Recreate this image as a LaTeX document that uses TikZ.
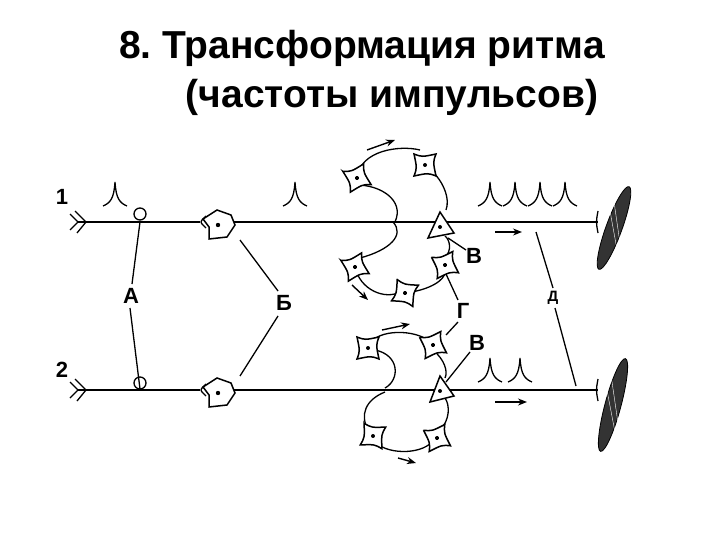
\documentclass[tikz,border=0pt]{standalone}
\usepackage{fontspec}
\setmainfont{Liberation Sans}
\usetikzlibrary{arrows.meta}
\frenchspacing
\begin{document}
\begin{tikzpicture}[x=1pt,y=-1pt,
  ln/.style={line width=2.2pt},
  th/.style={line width=1.3pt},
  lbl/.style={font=\bfseries\fontsize{22}{22}\selectfont},
  arr/.style={line width=1.4pt,-{Stealth[length=9pt,width=7pt]}},
  cell/.pic={\draw[line width=1.5pt,fill=white] (-11,-11) .. controls (-3,-8) .. (11,-11) .. controls (8,-3) .. (11,11) .. controls (3,8) .. (-11,11) .. controls (-8,3) .. cycle; \fill (0,0) circle (2);},
  big/.pic={\draw[line width=1.5pt,fill=white] (-16,-6) -- (-2,-15) -- (12,-10) -- (16,0) -- (8,12) -- (-10,14) -- (-10,2) -- cycle; \fill (-1,0) circle (2.2);},
  spike/.pic={\draw[th] (-12,9) .. controls (-5,6) and (-1,2) .. (0,-15) .. controls (1,2) and (5,6) .. (12,9);},
  syn/.pic={\draw[th] (-5,-6) .. controls (0,-1) .. (0,0) .. controls (0,1) .. (-5,6);}
]
\useasboundingbox (0,0) rectangle (720,540);
\node[font=\bfseries\fontsize{39}{39}\selectfont] (t1) at (362,48) {8. Трансформация ритма};
\node[font=\bfseries\fontsize{39}{39}\selectfont] (t2) at (392,97) {(частоты импульсов)};
% labels
\node[lbl] (n1) at (62,197) {1};
\node[lbl] (n2) at (62,370) {2};
\node[lbl] (A) at (131,296) {А};
\node[lbl] (B) at (284,303) {Б};
\node[lbl] (V1) at (474,256) {В};
\node[lbl] (G) at (463,311) {Г};
\node[lbl] (V2) at (477,343) {В};
\node[lbl,font=\bfseries\fontsize{15}{15}\selectfont] (D) at (553,298) {Д};
% main lines
\foreach \y/\ya in {222/214, 390/383}{
  \draw[ln] (78,\y) -- (200,\y);
  \draw[ln] (234,\y) -- (598,\y);
  \draw[th] (140,\ya) circle (6);
  \draw[th] (78,\y) -- (70,\y-8) (86,\y) -- (75,\y-11) (78,\y) -- (70,\y+8) (86,\y) -- (77,\y+11);
  \draw[th] (598,\y-11) .. controls (596,\y) .. (598,\y+11);
  \pic at (219,\y+3) {big};
  \pic[xscale=-1] at (201,\y) {syn};
}
% muscles
\draw[line width=0.8pt,fill=black!80] (614,228) ellipse[x radius=8, y radius=44, rotate=-20];
\draw[line width=0.8pt,fill=black!80] (613,405) ellipse[x radius=8, y radius=48, rotate=-15];
\draw[white,line width=0.4pt] (608,200)--(618,255) (613,195)--(621,250) (605,380)--(615,432) (611,375)--(619,430);
% spikes
\foreach \x in {115,295,490,515,540,565} \pic at (\x,197) {spike};
\foreach \x in {490,520} \pic at (\x,373) {spike};
% arrows on lines
\draw[arr] (495,232) -- (522,232);
\draw[arr] (495,402) -- (527,402);
% top loop
\draw[th] (357,178) .. controls (360,150) and (400,145) .. (420,150);
\draw[th] (425,165) .. controls (445,180) and (450,200) .. (446,210);
\draw[th] (357,185) .. controls (380,185) and (405,200) .. (395,222);
\draw[th] (393,222) .. controls (405,235) and (390,250) .. (360,258);
\draw[th] (355,267) .. controls (360,290) and (385,300) .. (400,292);
\draw[th] (405,293) .. controls (430,290) and (445,280) .. (445,272);
\draw[th] (445,258) .. controls (452,250) and (450,240) .. (445,236);
\pic[rotate=20] at (357,178) {cell}; \pic at (425,165) {cell};
\pic[rotate=20] at (355,267) {cell}; \pic[rotate=15] at (445,265) {cell}; \pic[rotate=-15] at (405,293) {cell};
\draw[line width=1.5pt,fill=white] (428,238) -- (440,212) -- (454,233) -- cycle; \fill (440,227) circle (2);
\draw[arr] (367,150) -- (395,140);
\draw[arr] (352,285) -- (368,300);
% bottom loop
\draw[th] (368,348) .. controls (372,330) and (410,328) .. (428,340);
\draw[th] (433,350) .. controls (445,360) and (448,372) .. (445,378);
\draw[th] (375,350) .. controls (400,355) and (400,380) .. (385,388);
\draw[th] (385,392) .. controls (365,400) and (360,415) .. (368,430);
\draw[th] (373,440) .. controls (385,455) and (420,455) .. (432,442);
\draw[th] (440,430) .. controls (450,420) and (450,405) .. (445,398);
\pic at (368,348) {cell}; \pic[rotate=15] at (433,345) {cell};
\pic[rotate=-10] at (373,436) {cell}; \pic[rotate=15] at (437,438) {cell};
\draw[line width=1.5pt,fill=white] (430,402) -- (440,376) -- (454,396) -- cycle; \fill (440,391) circle (2);
\draw[arr] (382,330) -- (410,324);
\draw[arr] (398,458) -- (416,463);
% pointer lines
\draw[th] (140,222) -- (132,284) (130,308) -- (140,389);
\draw[th] (240,240) -- (278,291) (278,316) -- (240,376);
\draw[th] (536,232) -- (553,288) (555,308) -- (576,386);
\draw[th] (446,274) -- (458,300) (458,322) -- (446,335);
\draw[th] (448,238) -- (466,250);
\draw[th] (470,352) -- (446,382);
\end{tikzpicture}
\end{document}
